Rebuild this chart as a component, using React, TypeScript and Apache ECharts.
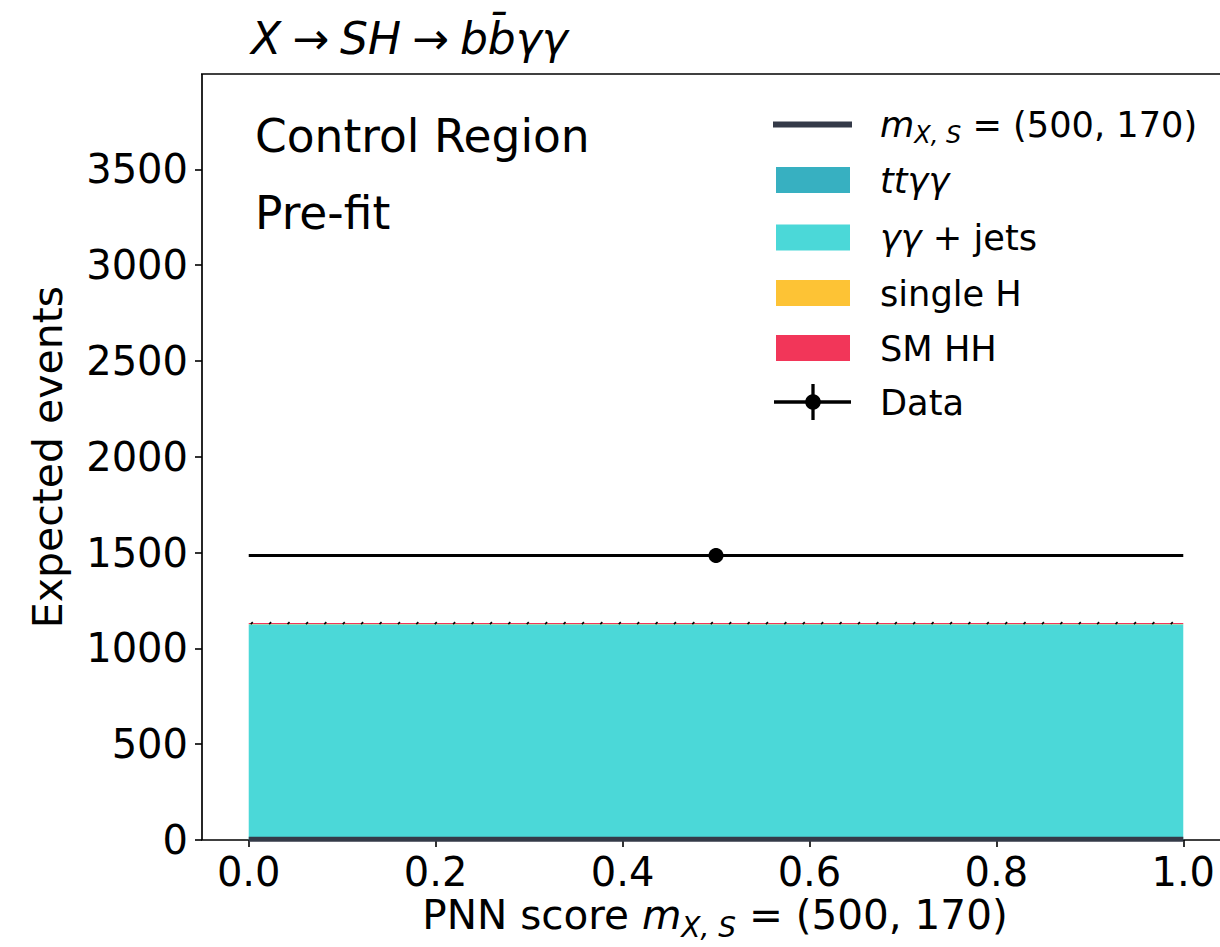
import React, { useEffect, useRef } from "react";
import * as echarts from "echarts";

const FONT = '"DejaVu Sans", sans-serif';

// Single-bin histogram over the PNN score
const binLow = [0];
const binHigh = [1];

const processNames = ["ttγγ", "γγ + jets", "single H", "SM HH"];
const processColors = ["#37b0c1", "#4bd8d8", "#fdc335", "#f23659"];
const ttggEvents = [2];
const ggJetsEvents = [1124];
const singleHEvents = [2];
const smHHEvents = [5];
const bkgUncertainty = [4];

const signalEvents = [4];
const signalColor = "#343a48";

const dataEvents = [1485];
const dataErrors = [38.5];

const xTickValues = [0, 0.2, 0.4, 0.6, 0.8, 1.0];
const yTickValues = [0, 500, 1000, 1500, 2000, 2500, 3000, 3500];

function buildOption() {
  const stacks = [ttggEvents, ggJetsEvents, singleHEvents, smHHEvents];
  const bases = binLow.map(() => 0);
  const stackSeries: any[] = stacks.map((vals, k) => {
    const data = vals.map((v, i) => {
      const b = bases[i];
      bases[i] += v;
      return [binLow[i], binHigh[i], b, b + v];
    });
    return {
      type: "custom",
      name: processNames[k],
      data,
      z: 2,
      encode: { x: [0, 1], y: [2, 3] },
      renderItem: (_p: any, api: any) => {
        const p0 = api.coord([api.value(0), api.value(3)]);
        const p1 = api.coord([api.value(1), api.value(2)]);
        return {
          type: "rect",
          shape: { x: p0[0], y: p0[1], width: p1[0] - p0[0], height: p1[1] - p0[1] },
          style: { fill: processColors[k] },
        };
      },
    };
  });

  // hatched band for the background uncertainty
  const totals = bases.slice();
  const hatchSeries = {
    type: "custom",
    name: "unc",
    z: 3,
    data: totals.map((t, i) => [binLow[i], binHigh[i], t - bkgUncertainty[i], t + bkgUncertainty[i]]),
    encode: { x: [0, 1], y: [2, 3] },
    renderItem: (_p: any, api: any) => {
      const p0 = api.coord([api.value(0), api.value(3)]);
      const p1 = api.coord([api.value(1), api.value(2)]);
      const h = Math.max(p1[1] - p0[1], 2);
      const yTop = p0[1];
      const yBot = p0[1] + h;
      const children: any[] = [];
      for (let x = p0[0] + 2; x < p1[0] - h; x += 18.4) {
        children.push({
          type: "line",
          shape: { x1: x, y1: yBot, x2: x + h, y2: yTop },
          style: { stroke: "#000", lineWidth: 1.6 },
        });
      }
      return { type: "group", children };
    },
  };

  const signalSeries = {
    type: "line",
    name: "signal",
    z: 4,
    symbol: "none",
    data: [
      [binLow[0], signalEvents[0]],
      [binHigh[binHigh.length - 1], signalEvents[signalEvents.length - 1]],
    ],
    lineStyle: { color: signalColor, width: 5 },
  };

  const dataSeries = {
    type: "custom",
    name: "Data",
    z: 5,
    data: dataEvents.map((v, i) => [binLow[i], binHigh[i], v, dataErrors[i]]),
    encode: { x: [0, 1], y: 2 },
    renderItem: (_p: any, api: any) => {
      const x0 = api.value(0);
      const x1 = api.value(1);
      const y = api.value(2);
      const e = api.value(3);
      const a = api.coord([x0, y]);
      const b = api.coord([x1, y]);
      const c = api.coord([(x0 + x1) / 2, y]);
      const up = api.coord([(x0 + x1) / 2, y + e]);
      const dn = api.coord([(x0 + x1) / 2, y - e]);
      return {
        type: "group",
        children: [
          { type: "line", shape: { x1: a[0], y1: a[1], x2: b[0], y2: b[1] }, style: { stroke: "#000", lineWidth: 3 } },
          { type: "line", shape: { x1: up[0], y1: up[1], x2: dn[0], y2: dn[1] }, style: { stroke: "#000", lineWidth: 3 } },
          { type: "circle", shape: { cx: c[0], cy: c[1], r: 7.5 }, style: { fill: "#000" } },
        ],
      };
    },
  };

  const italic = (size: number, lh: number, pad?: number[]) => ({
    fontFamily: FONT, fontStyle: "italic", fontSize: size, lineHeight: lh, fill: "#000", verticalAlign: "middle",
    ...(pad ? { padding: pad } : {}),
  });
  const upright = (size: number, lh: number, pad?: number[]) => ({
    fontFamily: FONT, fontSize: size, lineHeight: lh, fill: "#000", verticalAlign: "middle",
    ...(pad ? { padding: pad } : {}),
  });
  const subscript = (size: number, lh: number, shift: number) => ({
    fontFamily: FONT, fontStyle: "italic", fontSize: size, lineHeight: lh, fill: "#000",
    verticalAlign: "middle", padding: [shift * 2, 0, 0, 0],
  });

  const legendX = 776;
  const legendTextX = 880;
  const rowY = [124.5, 180, 237.5, 293, 348, 402];
  const LF = 35.2;

  const legend: any[] = [
    {
      type: "line",
      shape: { x1: legendX - 3, y1: rowY[0], x2: legendX + 76, y2: rowY[0] },
      style: { stroke: signalColor, lineWidth: 6 },
    },
    {
      type: "text",
      x: legendTextX,
      y: rowY[0],
      style: {
        text: "{m|m}{s|X, S}{n| = (500, 170)}",
        align: "left",
        verticalAlign: "middle",
        rich: { m: italic(LF, 40), s: subscript(24, 40, 10), n: upright(LF, 40) },
      },
    },
  ];
  processNames.forEach((name, k) => {
    const y = rowY[k + 1];
    legend.push({
      type: "rect",
      shape: { x: legendX, y: y - 13, width: 74, height: 26 },
      style: { fill: processColors[k] },
    });
    const text =
      k === 0 ? "{i|ttγγ}" : k === 1 ? "{i|γγ}{n| + jets}" : `{n|${name}}`;
    legend.push({
      type: "text",
      x: legendTextX,
      y,
      style: {
        text,
        align: "left",
        verticalAlign: "middle",
        rich: { i: italic(LF, 40), n: upright(LF, 40) },
      },
    });
  });
  legend.push(
    {
      type: "line",
      shape: { x1: legendX - 2, y1: rowY[5], x2: legendX + 75, y2: rowY[5] },
      style: { stroke: "#000", lineWidth: 3.5 },
    },
    {
      type: "line",
      shape: { x1: legendX + 37, y1: rowY[5] - 18, x2: legendX + 37, y2: rowY[5] + 18 },
      style: { stroke: "#000", lineWidth: 3.3 },
    },
    { type: "circle", shape: { cx: legendX + 37, cy: rowY[5], r: 7.8 }, style: { fill: "#000" } },
    {
      type: "text",
      x: legendTextX,
      y: rowY[5],
      style: { text: "Data", align: "left", verticalAlign: "middle", fontFamily: FONT, fontSize: LF, fill: "#000" },
    }
  );

  const graphic: any[] = [
    {
      type: "text",
      x: 251,
      y: 38,
      style: {
        text: "{i|X}{n|→}{i|SH}{n|→}{i|bb̄γγ}",
        align: "left",
        verticalAlign: "middle",
        rich: { i: italic(44, 50), n: upright(44, 50, [0, 11, 0, 11]) },
      },
    },
    {
      type: "text",
      x: 255,
      y: 136,
      style: { text: "Control Region", align: "left", verticalAlign: "middle", fontFamily: FONT, fontSize: 45.5, fill: "#000" },
    },
    {
      type: "text",
      x: 255,
      y: 213,
      style: { text: "Pre-fit", align: "left", verticalAlign: "middle", fontFamily: FONT, fontSize: 45.5, fill: "#000" },
    },
    {
      type: "text",
      x: 48,
      y: 457,
      rotation: Math.PI / 2,
      style: { text: "Expected events", align: "center", verticalAlign: "middle", fontFamily: FONT, fontSize: 41, fill: "#000" },
    },
    {
      type: "text",
      x: 715,
      y: 915,
      style: {
        text: "{n|PNN score }{m|m}{s|X, S}{n| = (500, 170)}",
        align: "center",
        verticalAlign: "middle",
        rich: { n: upright(40.5, 46), m: italic(40.5, 46), s: subscript(28, 46, 12) },
      },
    },
    ...legend,
  ];

  // left, top and bottom spines (the right one lies past the page edge)
  const spineStyle = { stroke: "#000", lineWidth: 1.7 };

  return {
    animation: false,
    backgroundColor: "#fff",
    grid: {
      left: 202,
      top: 74,
      width: 1028,
      height: 766,
      show: false,
      containLabel: false,
      outerBoundsMode: "none",
    },
    xAxis: {
      type: "value",
      min: -0.05,
      max: 1.05,
      axisLine: { show: false, onZero: false },
      splitLine: { show: false },
      axisTick: { show: true, length: 7, customValues: xTickValues, lineStyle: { color: "#000", width: 1.6 } },
      axisLabel: {
        customValues: xTickValues,
        formatter: (v: number) => v.toFixed(1),
        fontFamily: FONT,
        fontSize: 40,
        color: "#000",
        margin: 12,
      },
    },
    yAxis: {
      type: "value",
      min: 0,
      max: 3998,
      axisLine: { show: false, onZero: false },
      splitLine: { show: false },
      axisTick: { show: true, length: 7, customValues: yTickValues, lineStyle: { color: "#000", width: 1.6 } },
      axisLabel: {
        customValues: yTickValues,
        formatter: (v: number) => String(v),
        fontFamily: FONT,
        fontSize: 40,
        color: "#000",
        margin: 14,
      },
    },
    graphic: [
      { type: "line", z: 10, shape: { x1: 202, y1: 74, x2: 202, y2: 840 }, style: spineStyle },
      { type: "line", z: 10, shape: { x1: 201, y1: 74, x2: 1220, y2: 74 }, style: spineStyle },
      { type: "line", z: 1, shape: { x1: 201, y1: 840, x2: 1220, y2: 840 }, style: spineStyle },
      ...graphic,
    ],
    series: [...stackSeries, hatchSeries, signalSeries, dataSeries],
  };
}

export default function App() {
  const ref = useRef<HTMLDivElement>(null);
  useEffect(() => {
    document.body.style.margin = "0";
    document.body.style.overflow = "hidden";
    if (!ref.current) return;
    const chart = echarts.init(ref.current, undefined, { renderer: "svg" });
    chart.setOption(buildOption() as any);
    return () => chart.dispose();
  }, []);
  return <div ref={ref} style={{ width: 1220, height: 947 }} />;
}
